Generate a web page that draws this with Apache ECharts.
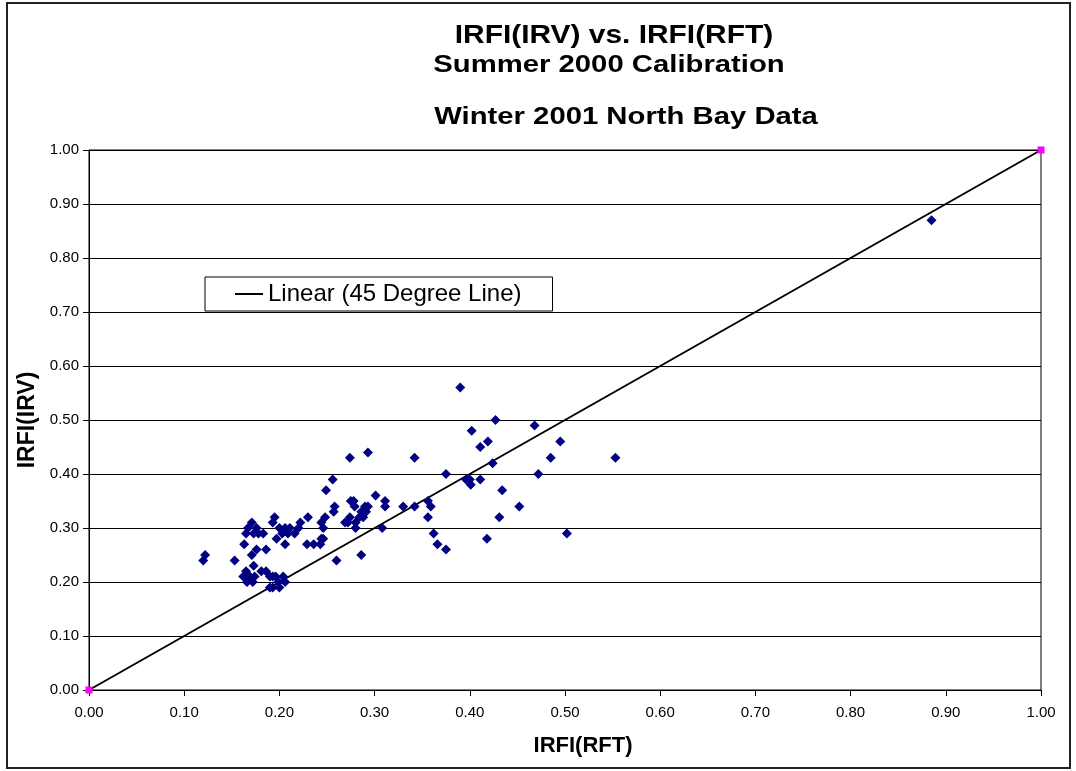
<!DOCTYPE html>
<html><head><meta charset="utf-8">
<script src="https://cdn.jsdelivr.net/npm/echarts@6/dist/echarts.min.js"></script>
<style>html,body{margin:0;padding:0;background:#fff}#c{width:1076px;height:771px}</style>
</head><body><div id="c"></div>
<script>
// ---- data ----
const titleLines = ['IRFI(IRV) vs. IRFI(RFT)', 'Summer 2000 Calibration', 'Winter 2001 North Bay Data'];
const xAxisName = 'IRFI(RFT)';
const yAxisName = 'IRFI(IRV)';
const lineName = 'Linear (45 Degree Line)';
const lineX = [0, 1];
const lineY = [0, 1];
const irftValues = [
  0.120,0.122,0.153,0.163,0.171,0.176,0.186,0.173,0.181,
  0.162,0.165,0.166,0.169,0.172,0.174,
  0.186,0.190,0.193,0.196,0.199,0.204,0.206,
  0.190,0.193,0.200,
  0.167,0.171,0.176,0.165,0.173,0.178,0.183,
  0.195,0.193,
  0.200,0.203,0.206,0.209,0.211,0.216,0.220,0.222,
  0.197,0.206,
  0.229,0.236,0.230,
  0.243,0.244,0.246,0.244,0.246,0.248,
  0.249,0.256,0.260,0.258,0.257,
  0.269,0.272,0.274,0.274,0.275,0.278,0.279,0.280,0.280,
  0.286,0.284,0.286,0.288,0.290,0.291,0.293,0.293,
  0.301,0.308,0.311,0.311,
  0.330,0.342,0.342,
  0.390,0.427,0.468,0.402,0.419,0.411,0.495,0.485,0.553,0.424,
  0.375,0.472,0.396,0.400,0.401,0.411,0.434,
  0.356,0.359,0.452,0.356,0.431,0.362,0.366,0.375,0.418,0.502,
  0.885
];
const irvValues = [
  0.24,0.25,0.24,0.27,0.25,0.26,0.26,0.23,0.22,
  0.21,0.22,0.20,0.21,0.20,0.21,
  0.22,0.21,0.21,0.21,0.20,0.21,0.20,
  0.19,0.19,0.19,
  0.30,0.31,0.30,0.29,0.29,0.29,0.29,
  0.32,0.31,
  0.30,0.29,0.30,0.29,0.30,0.29,0.30,0.31,
  0.28,0.27,
  0.27,0.27,0.32,
  0.27,0.28,0.28,0.31,0.30,0.32,
  0.37,0.39,0.24,0.34,0.33,
  0.31,0.31,0.43,0.32,0.35,0.35,0.34,0.31,0.30,
  0.25,0.32,0.33,0.32,0.34,0.33,0.34,0.44,
  0.36,0.30,0.35,0.34,
  0.34,0.43,0.34,
  0.56,0.50,0.49,0.48,0.46,0.45,0.46,0.43,0.43,0.42,
  0.40,0.40,0.39,0.39,0.38,0.39,0.37,
  0.35,0.34,0.34,0.32,0.32,0.29,0.27,0.26,0.28,0.29,
  0.87
];

// ---- chart ----
const scatterData = irftValues.map((x, i) => [x, irvValues[i]]);
const lineData = lineX.map((x, i) => [x, lineY[i]]);
const fam = '"Liberation Sans", Arial, sans-serif';

const chart = echarts.init(document.getElementById('c'), null, {renderer: 'canvas'});
const titleY = [36, 65, 117];
const titleX = [614, 609, 626];
const titleSize = [26, 24, 24];
const titleScale = [1.15, 1.22, 1.22];
chart.setOption({
  animation: false,
  backgroundColor: '#fff',
  textStyle: {fontFamily: fam},
  grid: {left: 89, right: 35, top: 150, bottom: 81, show: true, borderColor: '#000', borderWidth: 1, backgroundColor: '#fff'},
  legend: {
    left: 205, top: 277,
    data: [{name: lineName, icon: 'rect', itemStyle: {color: '#000'}}],
    itemWidth: 28, itemHeight: 2, itemGap: 5,
    padding: [5, 31, 5, 30],
    borderColor: '#000', borderWidth: 1, backgroundColor: '#fff',
    textStyle: {fontSize: 24, color: '#000', fontFamily: fam}
  },
  graphic: [
    {type: 'rect', shape: {x: 7, y: 3, width: 1063, height: 765}, style: {fill: 'none', stroke: '#222', lineWidth: 2}, silent: true, z: -1},
  ].concat(titleLines.map((t, i) => ({
    type: 'text', x: titleX[i], y: titleY[i], scaleX: titleScale[i],
    style: {text: t, fontSize: titleSize[i], fontWeight: 'bold', fontFamily: fam, fill: '#000', align: 'center', verticalAlign: 'middle'}
  }))),
  xAxis: {
    type: 'value', min: 0, max: 1, interval: 0.1,
    name: xAxisName, nameLocation: 'middle', nameGap: 45,
    nameTextStyle: {fontSize: 22, fontWeight: 'bold', color: '#000', padding: [0, 0, 0, 36]},
    axisLine: {show: true, onZero: false, lineStyle: {color: '#000', width: 1}},
    axisTick: {show: true, length: 6, lineStyle: {color: '#000'}},
    axisLabel: {fontSize: 15, color: '#000', margin: 15, formatter: v => v.toFixed(2)},
    splitLine: {show: false}
  },
  yAxis: {
    type: 'value', min: 0, max: 1, interval: 0.1,
    name: yAxisName, nameLocation: 'middle', nameGap: 34,
    nameTextStyle: {fontSize: 23, fontWeight: 'bold', color: '#000'},
    axisLine: {show: true, onZero: false, lineStyle: {color: '#000', width: 1}},
    axisTick: {show: true, length: 6, lineStyle: {color: '#000'}},
    axisLabel: {fontSize: 15, color: '#000', margin: 10, formatter: v => v.toFixed(2)},
    splitLine: {show: true, lineStyle: {color: '#000', width: 1}}
  },
  series: [
    {
      name: 'IRFI', type: 'scatter', data: scatterData,
      symbol: 'diamond', symbolSize: 10,
      itemStyle: {color: '#000080', opacity: 1}, z: 3
    },
    {
      name: lineName, type: 'line', data: lineData,
      symbol: 'none', lineStyle: {color: '#000', width: 2}, z: 2
    },
    {
      name: '45 Degree Line', type: 'scatter', data: lineData,
      symbol: 'rect', symbolSize: 7, clip: false,
      itemStyle: {color: '#ff00ff', opacity: 1}, z: 4
    }
  ]
});
</script>
</body></html>
